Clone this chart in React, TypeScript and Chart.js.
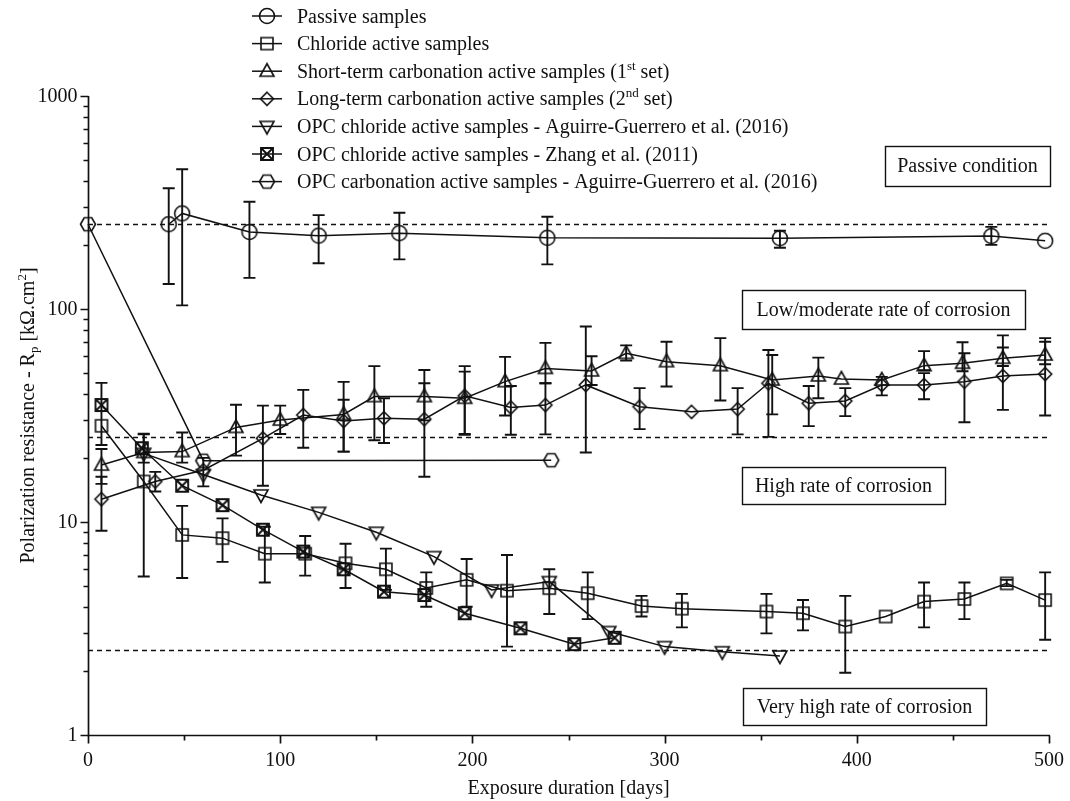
import React, { useEffect, useRef } from 'react';
import { Chart, registerables } from 'chart.js';
Chart.register(...registerables);

const FONT = "'Liberation Serif', 'Times New Roman', Times, serif";

// ---- Passive samples
const passiveDays = [42, 49, 84, 120, 162, 239, 360, 470, 498];
const passiveRp = [250, 281, 230, 221, 227, 216, 215, 220, 209];
const passiveLow = [131, 104, 140, 164, 171, 162, 194, 200, null];
const passiveHigh = [369, 453, 319, 276, 283, 271, 233, 243, null];

// ---- Chloride active samples
const chlorideDays = [7, 29, 49, 70, 92, 113, 134, 155, 176, 197, 218, 240, 260, 288, 309, 353, 372, 394, 415, 435, 456, 478, 498];
const chlorideRp = [28.3, 15.5, 8.7, 8.4, 7.1, 7.1, 6.4, 6.0, 4.9, 5.35, 4.76, 4.89, 4.63, 4.03, 3.92, 3.8, 3.73, 3.23, 3.6, 4.23, 4.35, 5.15, 4.3];
const chlorideLow = [23, 5.55, 5.46, 6.5, 5.2, 5.6, 4.9, 4.8, 4.0, 4.0, 2.6, 3.7, 3.5, 3.6, 3.2, 3.0, 3.1, 1.96, null, 3.2, 3.5, 5.0, 2.8];
const chlorideHigh = [45, 25.8, 11.9, 10.4, 9.5, 8.6, 7.9, 7.5, 5.8, 6.7, 7.0, 6.0, 5.8, 4.5, 4.6, 4.6, 4.3, 4.5, null, 5.2, 5.2, 5.35, 5.8];

// ---- Short-term carbonation active samples (1st set)
const shortDays = [7, 29, 49, 77, 100, 133, 149, 175, 196, 217, 238, 262, 280, 301, 329, 356, 380, 392, 413, 435, 455, 476, 498];
const shortRp = [18.5, 21.2, 21.4, 27.8, 30.1, 32.0, 38.8, 38.8, 38.1, 45.6, 52.6, 51.2, 61.9, 56.6, 54.2, 46.4, 48.5, 46.9, 46.4, 54.2, 55.6, 58.7, 60.8];
const shortLow = [15.1, 19, 19, 20.5, 25.9, 21.4, 24.2, 30, 25.7, 31.6, 44.8, 44, 57.3, 43.3, 37.2, 32, 38.1, null, null, 51.6, 51, 54, 55];
const shortHigh = [22, 26, 26.3, 35.5, 35.2, 45.5, 53.9, 51.7, 53.9, 59.6, 69.3, 60, 67.5, 70.2, 73, 60.8, 59.1, null, null, 63.4, 69.8, 75.2, 70.2];

// ---- Long-term carbonation active samples (2nd set)
const longDays = [7, 35, 60, 91, 112, 133, 154, 175, 196, 220, 238, 259, 287, 314, 338, 354, 375, 394, 413, 435, 456, 476, 498];
const longRp = [12.8, 15.5, 17.5, 24.7, 31.8, 29.8, 30.7, 30.4, 39.1, 34.5, 35.4, 44, 34.8, 32.9, 33.9, 44.8, 36.1, 37, 44, 44, 45.6, 48.5, 49.5];
const longLow = [9.1, 13.9, 14.7, 14.8, 22.3, 21.4, 23.5, 16.3, 25.9, 25.7, 25.8, 21.2, 27.3, null, 25.8, 25.1, 28.2, 31.4, 39.3, 37.7, 29.4, 33.6, 31.6];
const longHigh = [16.3, 17.2, 20.0, 35.2, 41.7, 37.5, 38.1, 44.8, 50.8, 43.5, 44.8, 82.7, 42.5, null, 42.5, 64.2, 43.5, 42.5, 48, 50, 62, 66, 73];

// ---- OPC chloride active samples - Aguirre-Guerrero et al. (2016)
const aguirreClDays = [29, 60, 90, 120, 150, 180, 210, 240, 271, 300, 330, 360];
const aguirreClRp = [21, 16.7, 13.4, 11.1, 8.95, 6.88, 4.8, 5.25, 3.06, 2.6, 2.46, 2.35];

// ---- OPC chloride active samples - Zhang et al. (2011)
const zhangDays = [7, 28, 49, 70, 91, 112, 133, 154, 175, 196, 225, 253, 274];
const zhangRp = [35.4, 22.2, 14.8, 12.0, 9.2, 7.26, 6.0, 4.71, 4.54, 3.73, 3.17, 2.67, 2.86];

// ---- OPC carbonation active samples - Aguirre-Guerrero et al. (2016)
const aguirreCarbDays = [0, 60, 241];
const aguirreCarbRp = [250, 19.4, 19.5];

// ---- reference levels, ticks and texts
const refLevels = [250, 25, 2.5];
const yTickLabels = [1, 10, 100, 1000];
const xTickValues = [0, 50, 100, 150, 200, 250, 300, 350, 400, 450, 500];
const xTickLabels = [0, 100, 200, 300, 400, 500];
const xTitle = 'Exposure duration [days]';

type Part = { t: string; s?: 'sup' | 'sub' };
const yTitleParts: Part[] = [
  { t: 'Polarization resistance - R' }, { t: 'p', s: 'sub' }, { t: ' [k\u03A9.cm' }, { t: '2', s: 'sup' }, { t: ']' },
];
const legendEntries: { marker: string; parts: Part[] }[] = [
  { marker: 'circle', parts: [{ t: 'Passive samples' }] },
  { marker: 'square', parts: [{ t: 'Chloride active samples' }] },
  { marker: 'triangle', parts: [{ t: 'Short-term carbonation active samples (1' }, { t: 'st', s: 'sup' }, { t: ' set)' }] },
  { marker: 'diamond', parts: [{ t: 'Long-term carbonation active samples (2' }, { t: 'nd', s: 'sup' }, { t: ' set)' }] },
  { marker: 'invtri', parts: [{ t: 'OPC chloride active samples - Aguirre-Guerrero et al. (2016)' }] },
  { marker: 'boxx', parts: [{ t: 'OPC chloride active samples - Zhang et al. (2011)' }] },
  { marker: 'hexagon', parts: [{ t: 'OPC carbonation active samples - Aguirre-Guerrero et al. (2016)' }] },
];
const zoneTexts = ['Passive condition', 'Low/moderate rate of corrosion', 'High rate of corrosion', 'Very high rate of corrosion'];
// box rectangles in pixels [left, top, right, bottom]
const zoneBoxes = [
  [885, 146, 1050, 186],
  [742, 290, 1025, 329],
  [742, 467, 945, 504],
  [743, 688, 986, 725],
];

const INK = '#111';

function makeMarker(kind: string): HTMLCanvasElement {
  const S = 26;
  const c = document.createElement('canvas');
  c.width = S; c.height = S;
  const g = c.getContext('2d')!;
  g.strokeStyle = INK; g.lineWidth = 1.6; g.lineJoin = 'miter';
  const m = S / 2;
  g.beginPath();
  if (kind === 'circle') {
    g.arc(m, m, 7.5, 0, Math.PI * 2);
  } else if (kind === 'square') {
    g.rect(m - 6, m - 6, 12, 12);
  } else if (kind === 'triangle') {
    g.moveTo(m, m - 7.5); g.lineTo(m + 7, m + 5); g.lineTo(m - 7, m + 5); g.closePath();
  } else if (kind === 'diamond') {
    g.moveTo(m, m - 6.5); g.lineTo(m + 6.5, m); g.lineTo(m, m + 6.5); g.lineTo(m - 6.5, m); g.closePath();
  } else if (kind === 'invtri') {
    g.moveTo(m - 7, m - 5); g.lineTo(m + 7, m - 5); g.lineTo(m, m + 7.5); g.closePath();
  } else if (kind === 'boxx') {
    g.lineWidth = 1.9;
    g.rect(m - 6, m - 6, 12, 12);
    g.moveTo(m - 6, m - 6); g.lineTo(m + 6, m + 6);
    g.moveTo(m + 6, m - 6); g.lineTo(m - 6, m + 6);
  } else if (kind === 'hexagon') {
    const r = 7.5, h = 6.5;
    g.moveTo(m - r, m); g.lineTo(m - r / 2, m - h); g.lineTo(m + r / 2, m - h);
    g.lineTo(m + r, m); g.lineTo(m + r / 2, m + h); g.lineTo(m - r / 2, m + h); g.closePath();
  }
  g.stroke();
  return c;
}

function partsWidth(ctx: CanvasRenderingContext2D, parts: Part[], size: number) {
  let w = 0;
  for (const p of parts) {
    const fs = p.s ? Math.round(size * 0.65) : size;
    ctx.font = `${fs}px ${FONT}`;
    w += ctx.measureText(p.t).width;
  }
  return w;
}
function drawParts(ctx: CanvasRenderingContext2D, parts: Part[], x: number, y: number, size: number) {
  let cx = x;
  ctx.textAlign = 'left';
  ctx.textBaseline = 'alphabetic';
  for (const p of parts) {
    const fs = p.s ? Math.round(size * 0.65) : size;
    ctx.font = `${fs}px ${FONT}`;
    const dy = p.s === 'sup' ? -size * 0.4 : p.s === 'sub' ? size * 0.22 : 0;
    ctx.fillText(p.t, cx, y + dy);
    cx += ctx.measureText(p.t).width;
  }
}

export default function App() {
  const ref = useRef<HTMLCanvasElement>(null);
  useEffect(() => {
    const canvas = ref.current!;
    const markers: Record<string, HTMLCanvasElement> = {};
    ['circle', 'square', 'triangle', 'diamond', 'invtri', 'boxx', 'hexagon'].forEach(k => (markers[k] = makeMarker(k)));

    const series = [
      { days: passiveDays, vals: passiveRp, lo: passiveLow, hi: passiveHigh, marker: 'circle' },
      { days: chlorideDays, vals: chlorideRp, lo: chlorideLow, hi: chlorideHigh, marker: 'square' },
      { days: shortDays, vals: shortRp, lo: shortLow, hi: shortHigh, marker: 'triangle' },
      { days: longDays, vals: longRp, lo: longLow, hi: longHigh, marker: 'diamond' },
      { days: aguirreClDays, vals: aguirreClRp, lo: null, hi: null, marker: 'invtri' },
      { days: zhangDays, vals: zhangRp, lo: null, hi: null, marker: 'boxx' },
      { days: aguirreCarbDays, vals: aguirreCarbRp, lo: null, hi: null, marker: 'hexagon' },
    ];

    const datasets: any[] = series.map(s => ({
      data: s.days.map((d, i) => ({ x: d, y: s.vals[i] })),
      borderColor: INK,
      borderWidth: 1.5,
      pointStyle: markers[s.marker],
      pointRadius: 7,
      pointHoverRadius: 7,
      fill: false,
      tension: 0,
      clip: false,
      errLo: s.lo,
      errHi: s.hi,
    }));

    const backPlugin = {
      id: 'back',
      beforeDatasetsDraw(chart: any) {
        const ctx = chart.ctx as CanvasRenderingContext2D;
        const xs = chart.scales.x, ys = chart.scales.y;
        ctx.save();
        ctx.strokeStyle = INK;
        ctx.lineWidth = 1.4;
        ctx.setLineDash([5, 4]);
        refLevels.forEach(v => {
          const y = Math.round(ys.getPixelForValue(v)) + 0.5;
          ctx.beginPath();
          ctx.moveTo(xs.getPixelForValue(0), y);
          ctx.lineTo(xs.getPixelForValue(500), y);
          ctx.stroke();
        });
        ctx.setLineDash([]);
        ctx.lineWidth = 1.9;
        chart.data.datasets.forEach((ds: any, di: number) => {
          if (!ds.errLo) return;
          const meta = chart.getDatasetMeta(di);
          meta.data.forEach((pt: any, i: number) => {
            const lo = ds.errLo[i], hi = ds.errHi[i];
            if (lo == null || hi == null) return;
            const x = pt.x;
            const yl = ys.getPixelForValue(lo), yh = ys.getPixelForValue(hi);
            ctx.beginPath();
            ctx.moveTo(x, yl); ctx.lineTo(x, yh);
            ctx.moveTo(x - 6, yl); ctx.lineTo(x + 6, yl);
            ctx.moveTo(x - 6, yh); ctx.lineTo(x + 6, yh);
            ctx.stroke();
          });
        });
        ctx.restore();
      },
    };

    const frontPlugin = {
      id: 'front',
      afterDraw(chart: any) {
        const ctx = chart.ctx as CanvasRenderingContext2D;
        const xs = chart.scales.x, ys = chart.scales.y;
        const a = chart.chartArea;
        ctx.save();
        ctx.strokeStyle = INK;
        ctx.fillStyle = INK;
        ctx.lineWidth = 1.7;
        const L = Math.round(a.left) + 0.5, B = Math.round(a.bottom) + 0.5;
        ctx.beginPath();
        ctx.moveTo(L, Math.round(a.top)); ctx.lineTo(L, B);
        ctx.lineTo(Math.round(a.right) + 1, B);
        ctx.stroke();
        // y ticks
        ctx.beginPath();
        for (let d = 0; d < 3; d++) {
          for (let m = 1; m <= 9; m++) {
            const v = m * Math.pow(10, d);
            const y = Math.round(ys.getPixelForValue(v)) + 0.5;
            const len = m === 1 ? 8 : 5;
            ctx.moveTo(L - len, y); ctx.lineTo(L, y);
          }
        }
        { const y = Math.round(ys.getPixelForValue(1000)) + 0.5; ctx.moveTo(L - 8, y); ctx.lineTo(L, y); }
        // x ticks
        xTickValues.forEach(v => {
          const x = Math.round(xs.getPixelForValue(v)) + 0.5;
          const len = v % 100 === 0 ? 8 : 5;
          ctx.moveTo(x, B); ctx.lineTo(x, B + len);
        });
        ctx.stroke();
        // tick labels
        ctx.font = `20px ${FONT}`;
        ctx.textAlign = 'right';
        ctx.textBaseline = 'middle';
        yTickLabels.forEach(v => ctx.fillText(String(v), L - 11, ys.getPixelForValue(v) + 1));
        ctx.textAlign = 'center';
        xTickLabels.forEach(v => ctx.fillText(String(v), xs.getPixelForValue(v), 761));
        // axis titles
        ctx.fillText(xTitle, (a.left + a.right) / 2, 789);
        ctx.save();
        ctx.translate(27, (a.top + a.bottom) / 2);
        ctx.rotate(-Math.PI / 2);
        const tw = partsWidth(ctx, yTitleParts, 20);
        drawParts(ctx, yTitleParts, -tw / 2, 7, 20);
        ctx.restore();
        // zone boxes
        ctx.lineWidth = 1.4;
        zoneTexts.forEach((t, i) => {
          const [l, t0, r, b] = zoneBoxes[i];
          ctx.strokeRect(l + 0.5, t0 + 0.5, r - l, b - t0);
          ctx.font = `20px ${FONT}`;
          ctx.textAlign = 'center';
          ctx.textBaseline = 'middle';
          ctx.fillText(t, (l + r) / 2, (t0 + b) / 2 + 1);
        });
        // legend
        legendEntries.forEach((e, i) => {
          const yc = 16 + i * 27.6;
          ctx.lineWidth = 1.5;
          ctx.beginPath();
          ctx.moveTo(252, yc); ctx.lineTo(282, yc);
          ctx.stroke();
          const mk = markers[e.marker];
          ctx.drawImage(mk, 267 - mk.width / 2, yc - mk.height / 2);
          drawParts(ctx, e.parts, 297, yc + 6.5, 20);
        });
        ctx.restore();
      },
    };

    const chart = new Chart(canvas, {
      type: 'line',
      data: { datasets },
      options: {
        animation: false,
        responsive: false,
        maintainAspectRatio: false,
        layout: { padding: { left: 88, right: 21, top: 96, bottom: 66 } },
        plugins: { legend: { display: false }, tooltip: { enabled: false } },
        events: [],
        scales: {
          x: { type: 'linear', min: 0, max: 500, display: false },
          y: { type: 'logarithmic', min: 1, max: 1000, display: false },
        },
      },
      plugins: [backPlugin, frontPlugin],
    } as any);
    return () => chart.destroy();
  }, []);

  return (
    <div style={{ position: 'absolute', left: 0, top: 0, width: 1070, height: 801, background: '#fff' }}>
      <canvas ref={ref} width={1070} height={801} style={{ display: 'block' }} />
    </div>
  );
}
